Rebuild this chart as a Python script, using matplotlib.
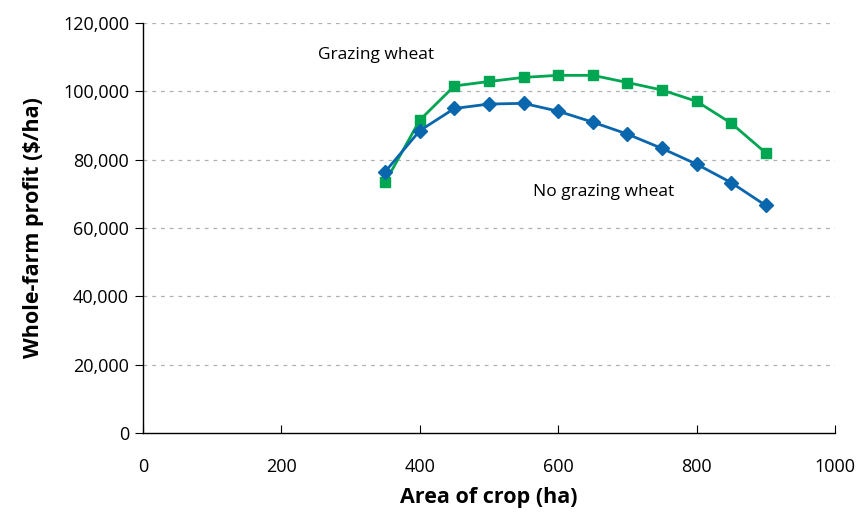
import matplotlib
matplotlib.use("Agg")
import matplotlib.pyplot as plt
from matplotlib.ticker import FuncFormatter

area = [350, 400, 450, 500, 550, 600, 650, 700, 750, 800, 850, 900]
grazing = [73400, 91600, 101600, 102900, 104100, 104700, 104700, 102600, 100400, 97100, 90700, 82000]
no_grazing = [76500, 88500, 95000, 96300, 96500, 94200, 91000, 87500, 83300, 78700, 73300, 66600]

x_ticks = [0, 200, 400, 600, 800, 1000]
y_ticks = [0, 20000, 40000, 60000, 80000, 100000, 120000]

plt.rcParams['font.family'] = ['Open Sans', 'DejaVu Sans']

fig = plt.figure(figsize=(8.65, 5.13), dpi=100)
ax = fig.add_axes([0.1653, 0.156, 0.8, 0.799])

green = '#00a651'
blue = '#0a66ad'

ax.plot(area, grazing, color=green, marker='s', markersize=7, linewidth=2, zorder=3)
ax.plot(area, no_grazing, color=blue, marker='D', markersize=7, linewidth=2, zorder=4)

ax.set_xlim(0, 1000)
ax.set_ylim(0, 120000)
ax.set_xticks(x_ticks)
ax.set_yticks(y_ticks)
ax.yaxis.set_major_formatter(FuncFormatter(lambda v, p: f"{int(v):,}"))

for y in y_ticks[1:]:
    ax.axhline(y, color='#b0b0b0', linestyle=(0, (3, 4)), linewidth=0.9, zorder=1)

for s in ['top', 'right']:
    ax.spines[s].set_visible(False)
for s in ['left', 'bottom']:
    ax.spines[s].set_color('black')
    ax.spines[s].set_linewidth(1)

ax.tick_params(axis='x', direction='in', length=6, labelsize=13, pad=18, color='black')
ax.tick_params(axis='y', direction='out', length=6, labelsize=13, pad=4, color='black')

ax.set_xlabel('Area of crop (ha)', fontsize=15.5, fontweight='bold', labelpad=8)
ax.set_ylabel('Whole-farm profit ($/ha)', fontsize=15.5, fontweight='bold', labelpad=14)

ax.text(253, 110600, 'Grazing wheat', fontsize=12.5, va='center', ha='left')
ax.text(563, 70500, 'No grazing wheat', fontsize=12.5, va='center', ha='left')

fig.savefig('out.png', dpi=100)
